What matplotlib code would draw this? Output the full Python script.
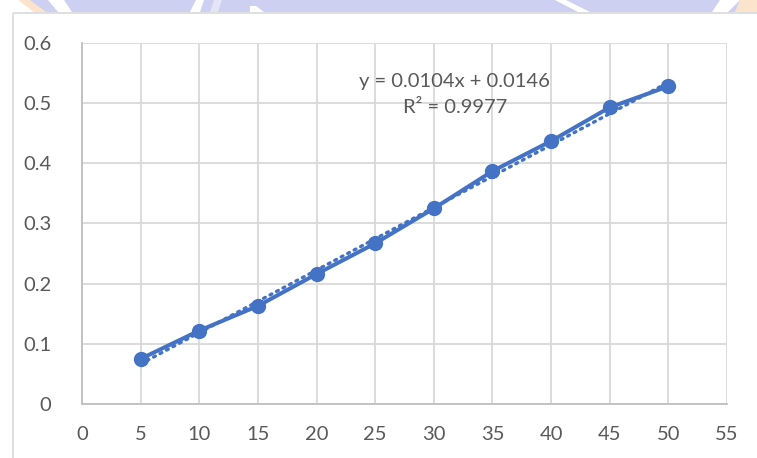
import matplotlib.pyplot as plt
from matplotlib.patches import Rectangle, Polygon

# concentration vs. absorbance readings
conc = [5, 10, 15, 20, 25, 30, 35, 40, 45, 50]
absorb = [0.075, 0.122, 0.163, 0.216, 0.267, 0.325, 0.387, 0.437, 0.493, 0.528]

# linear trendline as reported
slope = 0.0104
intercept = 0.0146
r2 = 0.9977

x_ticks = [0, 5, 10, 15, 20, 25, 30, 35, 40, 45, 50, 55]
y_ticks = [0, 0.1, 0.2, 0.3, 0.4, 0.5, 0.6]
y_labels = ["0", "0.1", "0.2", "0.3", "0.4", "0.5", "0.6"]

BLUE = "#4472C4"
GRID = "#d9d9d9"
TEXT = "#595959"

plt.rcParams['font.family'] = ['Lato', 'DejaVu Sans']

W, H = 757, 458
fig = plt.figure(figsize=(W / 100, H / 100), dpi=100)

# banner strip along the top edge
bg = fig.add_axes([0, 0, 1, 1])
bg.set_xlim(0, W)
bg.set_ylim(H, 0)
bg.axis("off")
bg.add_patch(Rectangle((0, 0), W, 12, color="#cdd0f0", lw=0))
bg.add_patch(Polygon([(0, 0), (20, 0), (38, 12), (0, 12)], closed=True, color="white", lw=0))
bg.add_patch(Polygon([(18, 0), (30, 0), (46, 12), (34, 12)], closed=True, color="#fbe3cc", lw=0))
bg.add_patch(Polygon([(48, 0), (64, 0), (72, 12), (58, 12)], closed=True, color="white", lw=0))
bg.add_patch(Polygon([(196, 0), (204, 0), (200, 12), (190, 12)], closed=True, color="white", lw=0))
bg.add_patch(Polygon([(214, 0), (222, 0), (218, 12), (210, 12)], closed=True, color="#e4e5f7", lw=0))
bg.add_patch(Polygon([(250, 6), (256, 6), (264, 12), (250, 12)], closed=True, color="white", lw=0))
bg.add_patch(Polygon([(555, 0), (566, 0), (590, 12), (578, 12)], closed=True, color="white", lw=0))
bg.add_patch(Polygon([(720, 0), (740, 0), (728, 12), (712, 12)], closed=True, color="white", lw=0))
bg.add_patch(Polygon([(740, 0), (757, 0), (757, 12), (735, 12)], closed=True, color="#fbe3cc", lw=0))
# chart area border
bg.add_patch(Rectangle((12.5, 12.5), W, H, fill=False, ec=GRID, lw=1.2))

ax = fig.add_axes([82 / W, (H - 404) / H, 645 / W, 361 / H])

# dotted trendline over the data range
tx = [conc[0], conc[-1]]
ty = [slope * x + intercept for x in tx]
ax.plot(tx, ty, color=BLUE, lw=2.4, linestyle=(0, (0.6, 1.6)),
        dash_capstyle="round", zorder=3)

ax.plot(conc, absorb, color=BLUE, lw=2.9, marker="o", markersize=10,
        zorder=4)

ax.set_xlim(0, 55)
ax.set_ylim(0, 0.6)
ax.set_xticks(x_ticks)
ax.set_yticks(y_ticks)
ax.set_yticklabels(y_labels)
ax.grid(True, color=GRID, lw=1.3)
ax.set_axisbelow(True)
for side in ["top", "right"]:
    ax.spines[side].set_visible(False)
for side in ["left", "bottom"]:
    ax.spines[side].set_color("#bfbfbf")
    ax.spines[side].set_linewidth(1.3)
ax.tick_params(length=0, labelsize=14.5, colors=TEXT)
ax.tick_params(axis="x", pad=16)
ax.tick_params(axis="y", pad=22)

ax.text(31.8, 0.515, f"y = {slope}x + {intercept}\nR\u00b2 = {r2}",
        ha="center", va="center", fontsize=14.5, color=TEXT,
        linespacing=1.65)

fig.savefig("out.png", dpi=100)
